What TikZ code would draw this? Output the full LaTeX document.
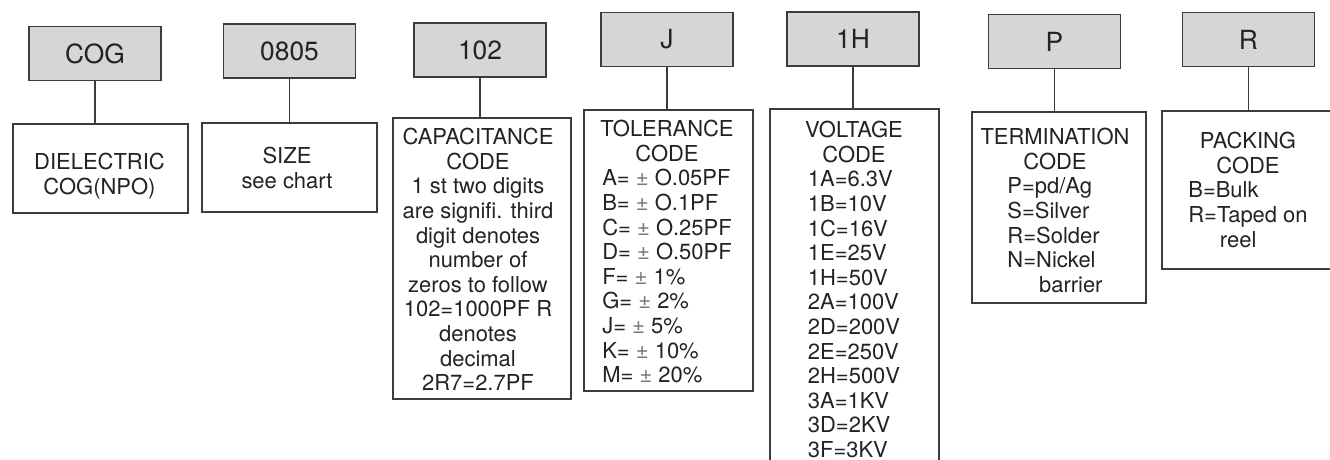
\documentclass[tikz,border=0pt]{standalone}
\usepackage{fontspec}
\setmainfont{TeX Gyre Heros}
\usepackage{tikz}
\definecolor{Frame}{RGB}{60,60,60}
\definecolor{Ink}{RGB}{35,35,35}
\definecolor{Shade}{RGB}{214,214,214}
\definecolor{Pale}{RGB}{120,120,120}
\tikzset{ code/.style ={draw=Frame, rectangle, line width=0.7pt, fill=Shade, minimum width=2.64cm, minimum height=1.08cm, inner sep=0pt, text=Ink, font=\fontsize{15}{18}\selectfont} }
\tikzset{ field/.style={draw=Frame, rectangle, line width=0.7pt, fill=white, inner sep=0pt} }
\tikzset{ info/.style ={anchor=north, align=center, inner sep=0pt, text=Ink, font=\fontsize{12.5}{14}\selectfont} }
\tikzset{ link/.style ={draw=Frame, line width=0.7pt} }

\begin{document}
\begin{tikzpicture}[x=0.02cm, y=-0.02cm]
    \useasboundingbox (0,0) rectangle (1330,460);
    \clip (0,0) rectangle (1330,460);

    \node[code] (top_n0) at (  95.0, 53.5) {COG};
    \node[code] (top_n1) at ( 289.5, 51.0) {0805};
    \node[code] (top_n2) at ( 480.0, 50.0) {102};
    \node[code] (top_n3) at ( 667.0, 39.5) {J};
    \node[code] (top_n4) at ( 853.0, 39.0) {1H};
    \node[code] (top_n5) at (1054.5, 41.5) {P};
    \node[code] (top_n6) at (1248.5, 39.5) {R};

    \node[field, minimum width=3.50cm, minimum height=1.78cm] (box_n0) at ( 100.5, 168.5) {};
    \node[field, minimum width=3.50cm, minimum height=1.78cm] (box_n1) at ( 289.5, 167.5) {};
    \node[field, minimum width=3.56cm, minimum height=5.62cm] (box_n2) at ( 482.0, 258.5) {};
    \node[field, minimum width=3.38cm, minimum height=5.62cm] (box_n3) at ( 668.5, 250.5) {};
    \node[field, minimum width=3.38cm, minimum height=7.32cm] (box_n4) at ( 854.5, 292.0) {};
    \node[field, minimum width=3.48cm, minimum height=3.82cm] (box_n5) at (1059.0, 207.5) {};
    \node[field, minimum width=3.66cm, minimum height=3.16cm] (box_n6) at (1253.5, 190.0) {};

    \draw[link] (top_n0.south) -- (top_n0.south |- box_n0.north);
    \draw[link] (top_n1.south) -- (top_n1.south |- box_n1.north);
    \draw[link] (top_n2.south) -- (top_n2.south |- box_n2.north);
    \draw[link] (top_n3.south) -- (top_n3.south |- box_n3.north);
    \draw[link] (top_n4.south) -- (top_n4.south |- box_n4.north);
    \draw[link] (top_n5.south) -- (top_n5.south |- box_n5.north);
    \draw[link] (top_n6.south) -- (top_n6.south |- box_n6.north);

    \node[info] (txt_n0) at (  99.5, 153) {DIELECTRIC\\COG(NPO)};
    \node[info] (txt_n1) at ( 287.0, 147) {SIZE\\see chart};
    \node[info] (txt_n2) at ( 478.0, 128) {CAPACITANCE\\CODE\\1 st two digits\\are signifi. third\\digit denotes\\number of\\zeros to follow\\102=1000PF R\\denotes\\decimal\\2R7=2.7PF};
    \node[info] (txt_n3) at ( 667.0, 120) {TOLERANCE\\CODE\\\begin{tabular}[t]{@{}l@{}}
        A= {\color{Pale}±} O.05PF\\
        B= {\color{Pale}±} O.1PF\\
        C= {\color{Pale}±} O.25PF\\
        D= {\color{Pale}±} O.50PF\\
        F= {\color{Pale}±} 1\%\\
        G= {\color{Pale}±} 2\%\\
        J= {\color{Pale}±} 5\%\\
        K= {\color{Pale}±} 10\%\\
        M= {\color{Pale}±} 20\%
      \end{tabular}};
    \node[info] (txt_n4) at ( 854.0, 121) {VOLTAGE\\CODE\\\begin{tabular}[t]{@{}l@{}}
        1A=6.3V\\1B=10V\\1C=16V\\1E=25V\\1H=50V\\2A=100V\\2D=200V\\2E=250V\\2H=500V\\3A=1KV\\3D=2KV\\3F=3KV
      \end{tabular}};
    \node[info] (txt_n5) at (1055.0, 128) {TERMINATION\\CODE\\\begin{tabular}[t]{@{}l@{}}
        P=pd/Ag\\S=Silver\\R=Solder\\N=Nickel\\\hspace*{18pt}barrier
      \end{tabular}};
    \node[info] (txt_n6) at (1248.0, 132) {PACKING\\CODE\\\begin{tabular}[t]{@{}l@{}}
        B=Bulk\\R=Taped on\\\hspace*{18pt}reel
      \end{tabular}};
\end{tikzpicture}
\end{document}
